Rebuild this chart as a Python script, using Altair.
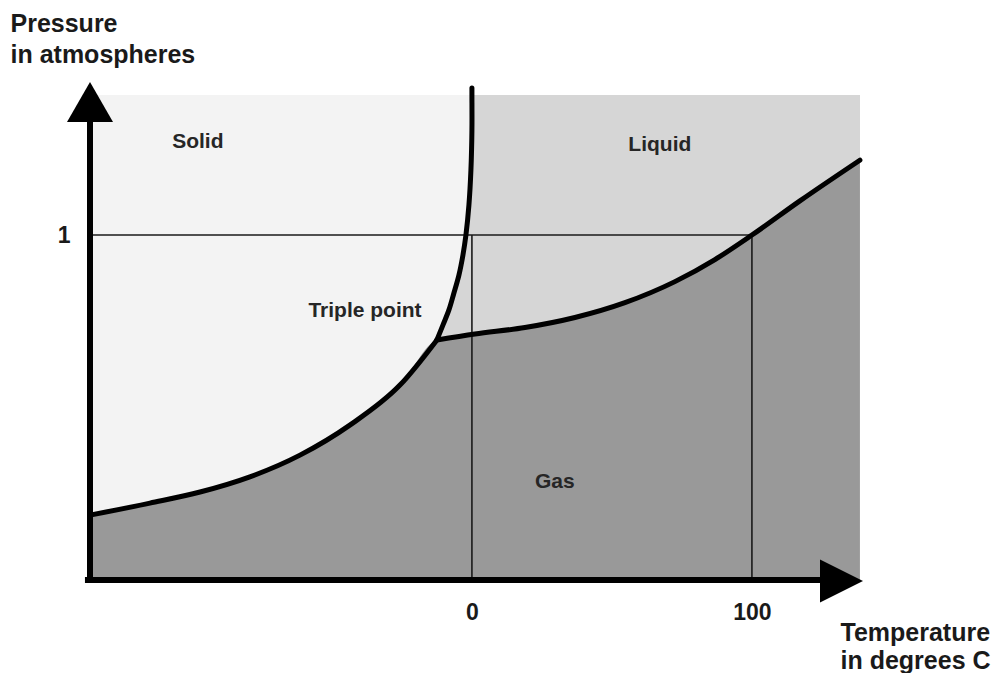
import altair as alt
import pandas as pd

# ---- data (temperature in deg C, pressure in atm) ----
T_MIN, T_MAX, P_MAX = -136.4, 138.6, 1.406

SUB_T = [-136.4, -115.0, -97.1, -79.3, -61.4, -43.6, -25.7, -12.5]
SUB_P = [0.188, 0.223, 0.255, 0.299, 0.362, 0.449, 0.565, 0.696]

FUS_T = [-12.5, -10.36, -8.21, -6.43, -4.64, -3.21, -2.14, -1.07, -0.36, 0.0, 0.0, 0.0]
FUS_P = [0.696, 0.739, 0.783, 0.832, 0.884, 0.942, 1.0, 1.087, 1.188, 1.304, 1.406, 1.426]

VAP_T = [-12.5, 1.07, 18.93, 36.79, 54.64, 72.5, 86.79, 100.0, 117.14, 138.57]
VAP_P = [0.696, 0.713, 0.732, 0.761, 0.804, 0.865, 0.929, 1.0, 1.099, 1.217]

REGION_NAMES = ["Solid", "Liquid", "Triple point", "Gas"]
REGION_T = [-97.9, 67.1, -38.2, 29.6]
REGION_P = [1.270, 1.261, 0.780, 0.284]

REF_P = 1.0
REF_T = [0, 100]

X_TICKS = [0, 100]
Y_TICKS = [1]
X_TITLE = ["Temperature", "in degrees C"]
Y_TITLE = ["Pressure", "in atmospheres"]

# axis-line extents (data units) and arrowhead positions
YAXIS_P = [-0.009, 1.33]
XAXIS_T = [-138.2, 126.0]
YARROW = (T_MIN, 1.386)
XARROW = (132.0, -0.003)

FONT = "Liberation Sans"
INK = "#1a1a1a"

# ---- tables ----
curves = pd.DataFrame(
    [{"curve": "sub", "i": i, "T": t, "P": p} for i, (t, p) in enumerate(zip(SUB_T, SUB_P))]
    + [{"curve": "fus", "i": i, "T": t, "P": p} for i, (t, p) in enumerate(zip(FUS_T, FUS_P))]
    + [{"curve": "vap", "i": i, "T": t, "P": p} for i, (t, p) in enumerate(zip(VAP_T, VAP_P))]
)
liquid = pd.DataFrame({"T": [t for t, p in zip(FUS_T, FUS_P) if p <= P_MAX],
                       "P": [p for p in FUS_P if p <= P_MAX]})
liquid["Tr"] = T_MAX
gas = pd.DataFrame({"T": SUB_T + VAP_T[1:], "P": SUB_P + VAP_P[1:]})
labels = pd.DataFrame({"name": REGION_NAMES, "T": REGION_T, "P": REGION_P})
href = pd.DataFrame({"P": [REF_P], "T": [T_MIN], "T2": [REF_T[-1]]})
vref = pd.DataFrame({"T": REF_T, "P": [0.0] * len(REF_T), "P2": [REF_P] * len(REF_T)})
yaxis_line = pd.DataFrame({"T": [T_MIN], "P": [YAXIS_P[0]], "P2": [YAXIS_P[1]]})
xaxis_line = pd.DataFrame({"P": [0.0], "T": [XAXIS_T[0]], "T2": [XAXIS_T[1]]})
yarrow = pd.DataFrame({"T": [YARROW[0]], "P": [YARROW[1]]})
xarrow = pd.DataFrame({"T": [XARROW[0]], "P": [XARROW[1]]})

# ---- scales & axes ----
xs = alt.Scale(domain=[T_MIN, T_MAX], nice=False, zero=False)
ys = alt.Scale(domain=[0, P_MAX], nice=False, zero=False)

xax = alt.Axis(values=X_TICKS, title=X_TITLE, domain=False, ticks=False, grid=False,
               labelFont=FONT, labelFontWeight="bold", labelFontSize=23, labelColor=INK,
               labelPadding=21, labelFlush=False,
               titleFont=FONT, titleFontWeight="bold", titleFontSize=25, titleColor=INK,
               titleAlign="left", titleBaseline="alphabetic", titleAngle=0,
               titleX=750, titleY=60, titleLineHeight=28)
yax = alt.Axis(values=Y_TICKS, title=Y_TITLE, domain=False, ticks=False, grid=False,
               labelFont=FONT, labelFontWeight="bold", labelFontSize=23, labelColor=INK,
               labelPadding=20, labelBaseline="middle",
               titleFont=FONT, titleFontWeight="bold", titleFontSize=25, titleColor=INK,
               titleAlign="left", titleBaseline="alphabetic", titleAngle=0,
               titleX=-80, titleY=-64, titleLineHeight=31)


def X(f):
    return alt.X(f, type="quantitative", scale=xs, axis=xax)


def Y(f):
    return alt.Y(f, type="quantitative", scale=ys, axis=yax)


liquid_layer = alt.Chart(liquid).mark_area(orient="horizontal", color="#d6d6d6",
                                           interpolate="catmull-rom").encode(
    y=Y("P"), x=X("T"), x2="Tr:Q")

gas_layer = alt.Chart(gas).mark_area(color="#999999", interpolate="monotone").encode(
    x=X("T"), y=Y("P"), y2=alt.datum(0))

vref_layer = alt.Chart(vref).mark_rule(color=INK, strokeWidth=1.6).encode(
    x=X("T"), y=Y("P"), y2="P2:Q")
href_layer = alt.Chart(href).mark_rule(color=INK, strokeWidth=1.6).encode(
    y=Y("P"), x=X("T"), x2="T2:Q")

line_style = dict(color="black", strokeWidth=5, strokeCap="round", strokeJoin="round")
fusion_layer = alt.Chart(curves).transform_filter(alt.datum.curve == "fus").mark_line(
    interpolate="catmull-rom", **line_style).encode(x=X("T"), y=Y("P"), order="i:Q")
other_layer = alt.Chart(curves).transform_filter(alt.datum.curve != "fus").mark_line(
    interpolate="monotone", **line_style).encode(
    x=X("T"), y=Y("P"), detail="curve:N", order="i:Q")

yaxis_layer = alt.Chart(yaxis_line).mark_rule(color="black", strokeWidth=6).encode(
    x=X("T"), y=Y("P"), y2="P2:Q")
xaxis_layer = alt.Chart(xaxis_line).mark_rule(color="black", strokeWidth=6).encode(
    y=Y("P"), x=X("T"), x2="T2:Q")

yarrow_layer = alt.Chart(yarrow).mark_point(shape="M0,-1L1.15,1L-1.15,1Z", size=1600,
                                            filled=True, color="black", opacity=1).encode(
    x=X("T"), y=Y("P"))
xarrow_layer = alt.Chart(xarrow).mark_point(shape="M1,0L-1,1L-1,-1Z", size=1849,
                                            filled=True, color="black", opacity=1).encode(
    x=X("T"), y=Y("P"))

text_layer = alt.Chart(labels).mark_text(font=FONT, fontWeight="bold", fontSize=21,
                                         color="#262626", align="center",
                                         baseline="middle").encode(
    x=X("T"), y=Y("P"), text="name:N")

chart = alt.layer(
    liquid_layer, gas_layer, vref_layer, href_layer, fusion_layer, other_layer,
    yaxis_layer, xaxis_layer, yarrow_layer, xarrow_layer, text_layer
).properties(
    width=770, height=485,
    autosize=alt.AutoSizeParams(type="none"),
    padding={"left": 82, "top": 87, "right": 139, "bottom": 93},
    background="white",
).configure_view(fill="#f3f3f3", strokeWidth=0)

chart.save("out.html", embed_options={"renderer": "svg", "actions": False})
